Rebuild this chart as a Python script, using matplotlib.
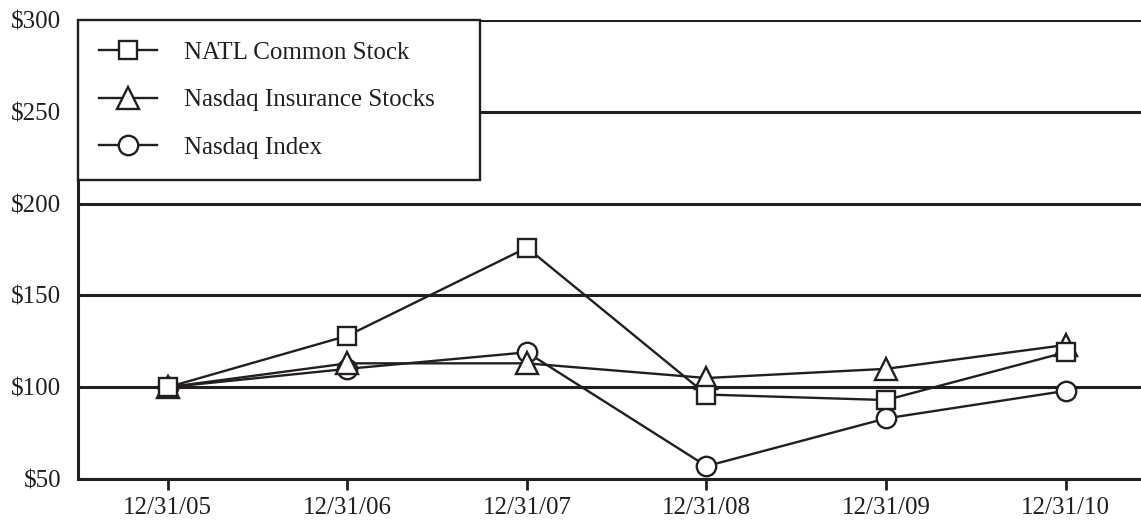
import matplotlib
matplotlib.use('Agg')
import matplotlib.pyplot as plt

# values
dates = ['12/31/05', '12/31/06', '12/31/07', '12/31/08', '12/31/09', '12/31/10']
natl = [100, 128, 176, 96, 93, 119]
insurance = [100, 113, 113, 105, 110, 123]
nasdaq = [100, 110, 119, 57, 83, 98]
y_ticks = [50, 100, 150, 200, 250, 300]
y_labels = ['$50', '$100', '$150', '$200', '$250', '$300']

ink = '#231f20'
plt.rcParams['font.family'] = ['Liberation Serif', 'DejaVu Serif']
plt.rcParams['font.size'] = 18

fig = plt.figure(figsize=(11.41, 5.23), dpi=100)
ax = fig.add_axes([78 / 1141, 44 / 523, 1 - 78 / 1141, (479 - 20) / 523])

x = list(range(len(dates)))
common = dict(color=ink, linewidth=1.7, markerfacecolor='white',
              markeredgecolor=ink, markeredgewidth=1.7)
ax.plot(x, natl, marker='s', markersize=13, label='NATL Common Stock', zorder=5, **common)
ax.plot(x, insurance, marker='^', markersize=16, label='Nasdaq Insurance Stocks', zorder=4, **common)
ax.plot(x, nasdaq, marker='o', markersize=14, label='Nasdaq Index', zorder=3, **common)

ax.set_xlim(-0.5, 5.42)
ax.set_ylim(50, 300)
ax.set_xticks(x)
ax.set_xticklabels(dates)
ax.set_yticks(y_ticks)
ax.set_yticklabels(y_labels)
ax.tick_params(axis='x', length=8, width=2, color=ink, labelcolor=ink, pad=5)
ax.tick_params(axis='y', length=0, labelcolor=ink, pad=12)

ax.set_axisbelow(True)
ax.yaxis.grid(True, color=ink, linewidth=2.2)
for side in ['top', 'right']:
    ax.spines[side].set_visible(False)
for side in ['left', 'bottom']:
    ax.spines[side].set_linewidth(2.2)
    ax.spines[side].set_color(ink)

leg = ax.legend(loc='upper left', bbox_to_anchor=(0, 0, 402 / 1063, 1), mode='expand',
                borderaxespad=0, fancybox=False, framealpha=1, edgecolor=ink,
                handlelength=2.3, handletextpad=1.1, labelspacing=1.0,
                borderpad=0.85, labelcolor=ink)
leg.get_frame().set_linewidth(1.7)

fig.savefig('out.png', dpi=100)
